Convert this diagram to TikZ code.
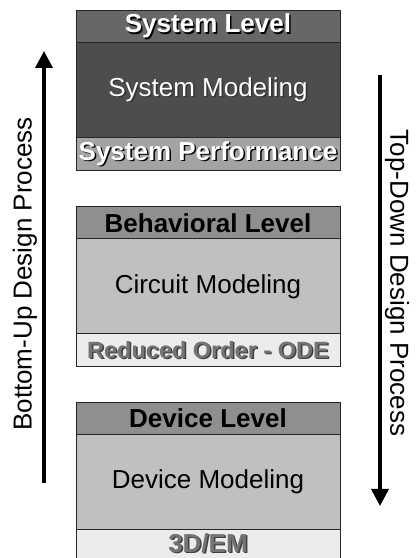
\documentclass[tikz,border=0pt]{standalone}
\usepackage{fontspec}
\setmainfont{Liberation Sans}
\usetikzlibrary{positioning,arrows.meta}
\definecolor{syshead}{HTML}{676767}
\definecolor{sysbody}{HTML}{4D4D4D}
\definecolor{sysfoot}{HTML}{A3A3A3}
\definecolor{lvlhead}{HTML}{8F8F8F}
\definecolor{lvlbody}{HTML}{C0C0C0}
\definecolor{lvlfoot}{HTML}{ECECEC}
\definecolor{foottext}{HTML}{747474}
% text with a small drop shadow: {shadow}{colour}{text}
\newcommand{\embtext}[3]{\makebox[0pt][l]{\hspace{1.5pt}\raisebox{-1.5pt}{\color{#1}#3}}{\color{#2}#3}}

\begin{document}
\begin{tikzpicture}[x=1pt,y=1pt,>={Triangle[width=17pt,length=17pt]},
  lvl/.style={draw=black!85,line width=1pt,minimum width=264pt,inner sep=0pt,outer sep=0pt,font=\fontsize{26}{30}\selectfont},
  head/.style={lvl,minimum height=32pt,font=\fontsize{26}{30}\selectfont\bfseries},
  body/.style={lvl,minimum height=95pt},
  foot/.style={lvl,minimum height=33pt,font=\fontsize{26}{30}\selectfont\bfseries},
  flow/.style={->,line width=3.5pt}]
  \useasboundingbox (0,0) rectangle (417,558);
  \clip (0,0) rectangle (417,558);
  % system level
  \node[head,fill=syshead] (syshead) at (208,531) {\embtext{black}{white}{System Level}};
  \node[body,fill=sysbody,below=0pt of syshead] (sysbody) {\embtext{black!80}{white}{System Modeling}};
  \node[foot,fill=sysfoot,below=0pt of sysbody] (sysfoot) {\embtext{black}{white}{System Performance}};
  % behavioral level
  \node[head,fill=lvlhead] (behhead) at (208,335) {Behavioral Level};
  \node[body,fill=lvlbody,below=0pt of behhead] (behbody) {Circuit Modeling};
  \node[foot,fill=lvlfoot,below=0pt of behbody,font=\fontsize{23.5}{28}\selectfont\bfseries] (behfoot) {\embtext{black!75}{foottext}{Reduced Order - ODE}};
  % device level
  \node[head,fill=lvlhead] (devhead) at (208,139.5) {Device Level};
  \node[body,fill=lvlbody,below=0pt of devhead] (devbody) {Device Modeling};
  \node[foot,fill=lvlfoot,below=0pt of devbody] (devfoot) {\raisebox{6.5pt}{\embtext{black!75}{foottext}{3D/EM}}};
  % design flow arrows
  \coordinate (butail) at (44,75);
  \coordinate (butip) at (44,507);
  \coordinate (tdtail) at (380,483);
  \coordinate (tdtip) at (380,52);
  \draw[flow] (butail) -- (butip);
  \draw[flow] (tdtail) -- (tdtip);
  \node[rotate=90,font=\fontsize{26}{30}\selectfont] (bulabel) at (25,284) {Bottom-Up Design Process};
  \node[rotate=-90,font=\fontsize{26}{30}\selectfont] (tdlabel) at (397,275) {Top-Down Design Process};
\end{tikzpicture}
\end{document}
